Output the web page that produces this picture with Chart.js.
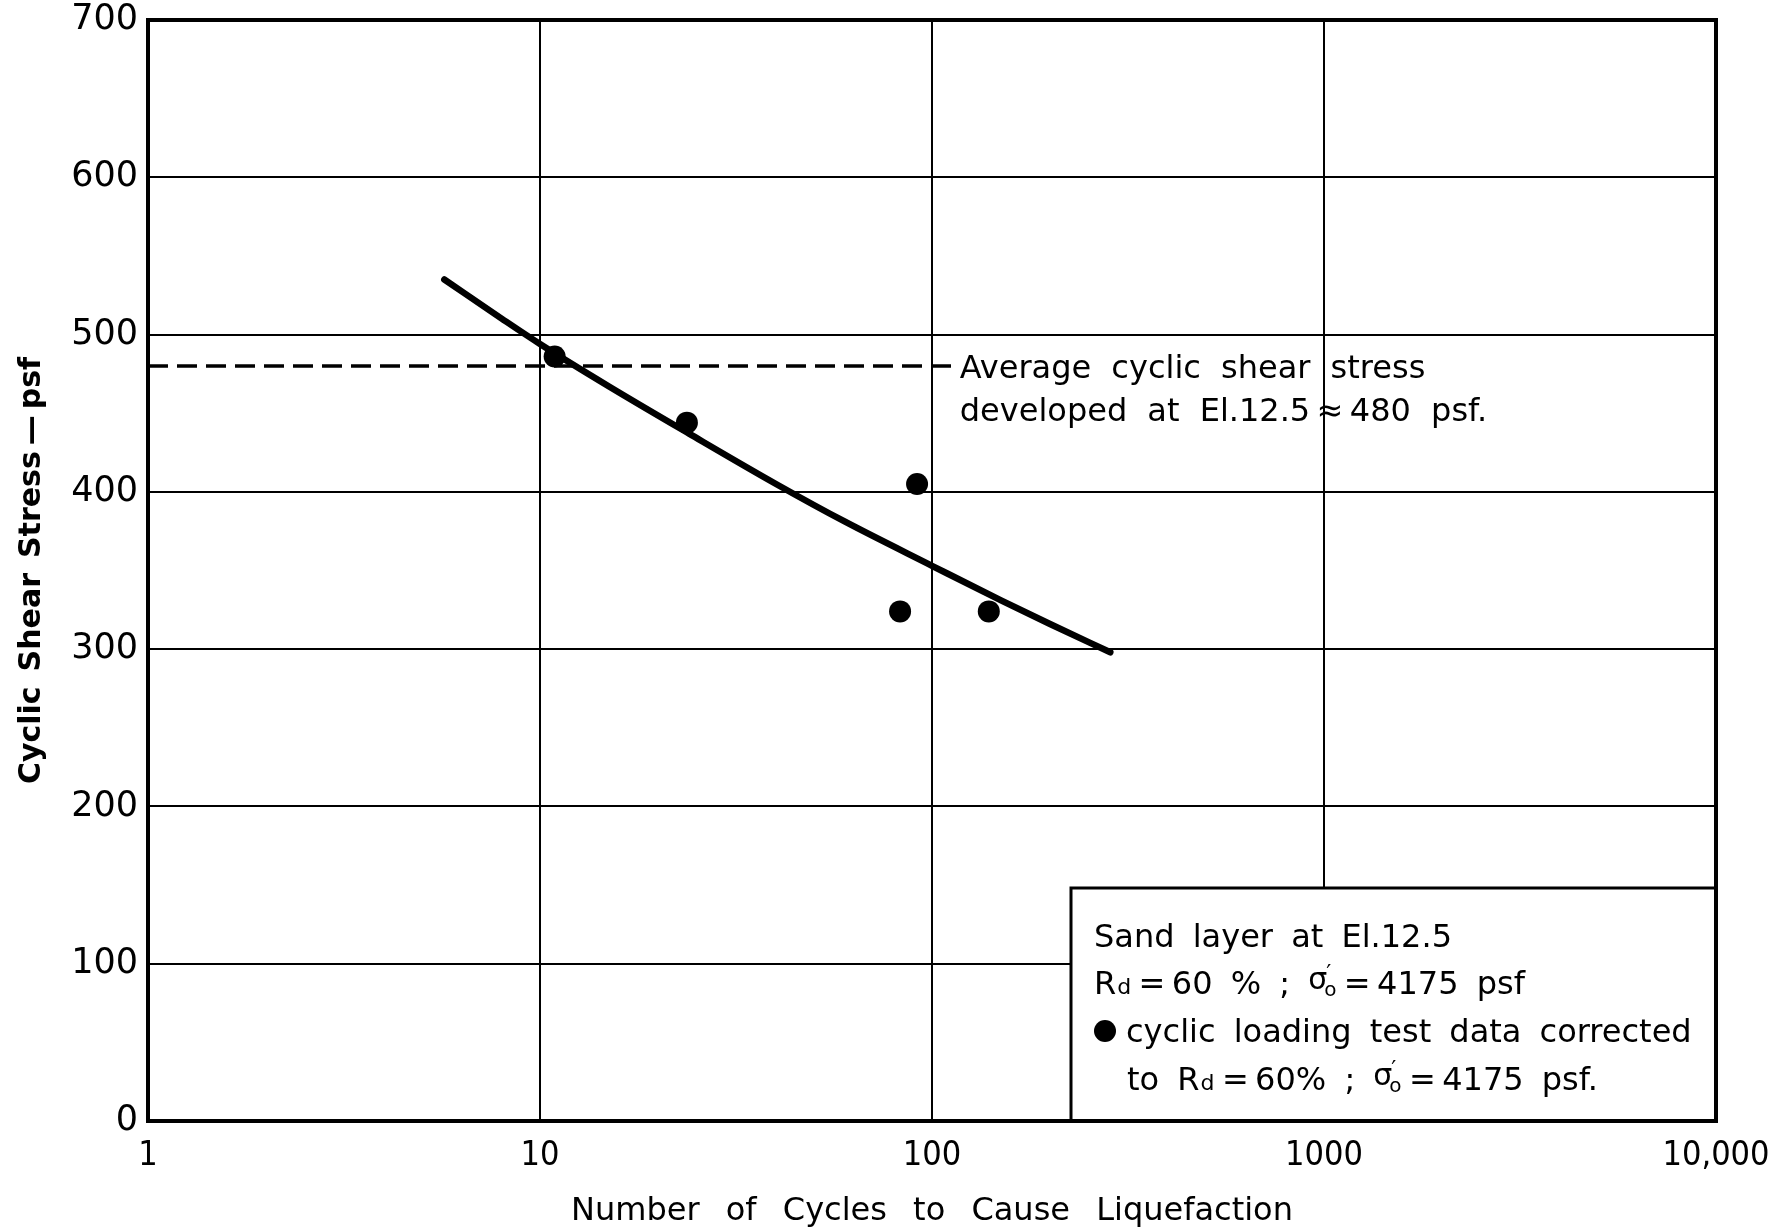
<!DOCTYPE html>
<html>
<head>
<meta charset="utf-8">
<title>Cyclic Shear Stress vs Number of Cycles</title>
<script src="https://cdn.jsdelivr.net/npm/chart.js@4.4.1/dist/chart.umd.min.js"></script>
<style>
  html, body { margin: 0; padding: 0; background: #fff; }
  #wrap { width: 1785px; height: 1232px; }
</style>
</head>
<body>
<div id="wrap"><canvas id="myChart" width="1785" height="1232"></canvas></div>
<script>
// test points (cycles to liquefaction, stress in psf)
const testCycles = [10.9, 23.7, 91.6, 82.9, 139.6];
const testStress = [486, 444, 405, 324, 324];

// fitted curve through the test data
const curveCycles = [5.7, 8, 10, 15, 24, 40, 60, 100, 150, 200, 285];
const curveStress = [535, 510, 494, 467, 437, 405, 381, 353, 331, 316, 298];

// average cyclic shear stress at El. 12.5
const avgCycles = [1, 115];
const avgStress = [480, 480];

// axes
const xTicks = [1, 10, 100, 1000, 10000];
const xTickLabels = ['1', '10', '100', '1000', '10,000'];
const yTicks = [0, 100, 200, 300, 400, 500, 600, 700];

const noteLines = ['Average cyclic shear stress', 'developed at El.12.5\u2009\u2248\u2009480 psf.'];

const BLACK = '#000';
const textFont = '32px "DejaVu Sans"';
const smallFont = '22px "DejaVu Sans"';
const thin = '\u2009';
const en = '\u2002';

function pairs(xs, ys) {
    return xs.map((x, i) => ({ x: x, y: ys[i] }));
}

// draws a line of mixed text: plain strings, small "d" and the sigma-prime-o symbol
function drawRuns(ctx, x, y, runs) {
    runs.forEach((run) => {
        if (typeof run === 'string') {
            ctx.font = textFont;
            ctx.fillText(run, x, y);
            x += ctx.measureText(run).width;
        } else if (run.sub) {
            ctx.font = smallFont;
            ctx.fillText(run.sub, x + 1, y);
            x += ctx.measureText(run.sub).width + 2;
        } else if (run.sigma) {
            ctx.font = '30px "DejaVu Sans"';
            ctx.fillText('\u03c3', x, y - 5);
            x += ctx.measureText('\u03c3').width;
            ctx.font = '22px "DejaVu Sans"';
            ctx.fillText('\u2032', x - 1, y - 14);
            ctx.font = '20px "DejaVu Sans"';
            ctx.fillText('o', x - 3, y + 2);
            x += ctx.measureText('o').width - 2;
        } else if (run.dot) {
            ctx.beginPath();
            ctx.arc(x + 11, y - 11, 11, 0, Math.PI * 2);
            ctx.fill();
            x += 32;
        }
    });
}

const paperPlugin = {
    id: 'paper',
    beforeDraw(chart) {
        // wide word gaps, as in the hand lettering
        chart.ctx.wordSpacing = '16px';
    },
    beforeDatasetsDraw(chart) {
        const { ctx, chartArea: a } = chart;
        ctx.save();
        // key box in the lower right corner
        const boxLeft = a.right - 645;
        const boxTop = a.bottom - 233;
        ctx.fillStyle = '#fff';
        ctx.fillRect(boxLeft, boxTop, a.right - boxLeft, a.bottom - boxTop);
        ctx.strokeStyle = BLACK;
        ctx.lineWidth = 3;
        ctx.strokeRect(boxLeft, boxTop, a.right - boxLeft, a.bottom - boxTop);

        ctx.fillStyle = BLACK;
        ctx.textBaseline = 'alphabetic';
        ctx.textAlign = 'left';
        ctx.wordSpacing = '8px';
        const tx = boxLeft + 23;
        drawRuns(ctx, tx, boxTop + 59, ['Sand layer at El.12.5']);
        drawRuns(ctx, tx, boxTop + 106, ['R', { sub: 'd' }, thin + '=' + thin + '60 % ; ', { sigma: true }, thin + '=' + thin + '4175 psf']);
        drawRuns(ctx, tx, boxTop + 154, [{ dot: true }, 'cyclic loading test data corrected']);
        drawRuns(ctx, tx + 33, boxTop + 202, ['to R', { sub: 'd' }, thin + '=' + thin + '60% ; ', { sigma: true }, thin + '=' + thin + '4175 psf.']);

        // heavy frame round the plot
        ctx.lineWidth = 4;
        ctx.strokeRect(a.left, a.top, a.right - a.left, a.bottom - a.top);
        ctx.restore();
    },
    afterDatasetsDraw(chart) {
        const { ctx, scales } = chart;
        const x = scales.x.getPixelForValue(avgCycles[1]) + 4;
        const y = scales.y.getPixelForValue(avgStress[1]);
        ctx.save();
        ctx.fillStyle = BLACK;
        ctx.font = textFont;
        ctx.wordSpacing = '10px';
        ctx.textAlign = 'left';
        ctx.textBaseline = 'alphabetic';
        ctx.fillText(noteLines[0], x, y + 12);
        ctx.fillText(noteLines[1], x, y + 55);
        ctx.restore();
    },
};

const data = {
    datasets: [
        {
            label: 'Average cyclic shear stress',
            data: pairs(avgCycles, avgStress),
            showLine: true,
            borderColor: BLACK,
            borderWidth: 3.5,
            borderDash: [20, 9],
            pointRadius: 0,
        },
        {
            label: 'Fitted curve',
            data: pairs(curveCycles, curveStress),
            showLine: true,
            borderColor: BLACK,
            borderWidth: 6.5,
            borderCapStyle: 'round',
            cubicInterpolationMode: 'monotone',
            pointRadius: 0,
        },
        {
            label: 'Cyclic loading test data',
            data: pairs(testCycles, testStress),
            showLine: false,
            pointRadius: 11,
            pointBackgroundColor: BLACK,
            pointBorderColor: BLACK,
            pointBorderWidth: 0,
        },
    ],
};

const options = {
    responsive: false,
    animation: false,
    events: [],
    layout: { padding: { top: 20, right: 69, left: 0, bottom: 0 } },
    plugins: {
        legend: { display: false },
        tooltip: { enabled: false },
    },
    scales: {
        x: {
            type: 'logarithmic',
            min: 1,
            max: 10000,
            afterBuildTicks: (scale) => {
                scale.ticks = xTicks.map((v) => ({ value: v }));
            },
            afterFit: (scale) => {
                scale.height = 111;
            },
            grid: { color: BLACK, lineWidth: 2, drawTicks: false },
            border: { display: false },
            ticks: {
                color: BLACK,
                padding: 15,
                font: { family: 'DejaVu Sans Condensed', size: 34 },
                maxRotation: 0,
                autoSkip: false,
                callback: (value) => xTickLabels[xTicks.indexOf(value)],
            },
            title: {
                display: true,
                text: 'Number of Cycles to Cause Liquefaction',
                color: BLACK,
                font: { family: 'DejaVu Sans', size: 32, lineHeight: 1 },
                padding: { top: 0, bottom: 4 },
            },
        },
        y: {
            min: 0,
            max: 700,
            afterBuildTicks: (scale) => {
                scale.ticks = yTicks.map((v) => ({ value: v }));
            },
            afterFit: (scale) => {
                scale.width = 148;
                scale.paddingTop = 0;
                scale.paddingBottom = 0;
            },
            grid: { color: BLACK, lineWidth: 2, drawTicks: false },
            border: { display: false },
            ticks: {
                color: BLACK,
                padding: 10,
                font: { family: 'DejaVu Sans', size: 35 },
            },
            title: {
                display: true,
                text: 'Cyclic' + en + 'Shear' + en + 'Stress' + thin + '\u2014' + thin + 'psf',
                color: BLACK,
                font: { family: 'DejaVu Sans', size: 30, weight: 'bold', lineHeight: 1 },
                padding: { top: 17, bottom: 0 },
            },
        },
    },
};

var ctx = document.getElementById('myChart').getContext('2d');
var myChart = new Chart(ctx, {
    type: 'scatter',
    data: data,
    options: options,
    plugins: [paperPlugin],
});
</script>
</body>
</html>
